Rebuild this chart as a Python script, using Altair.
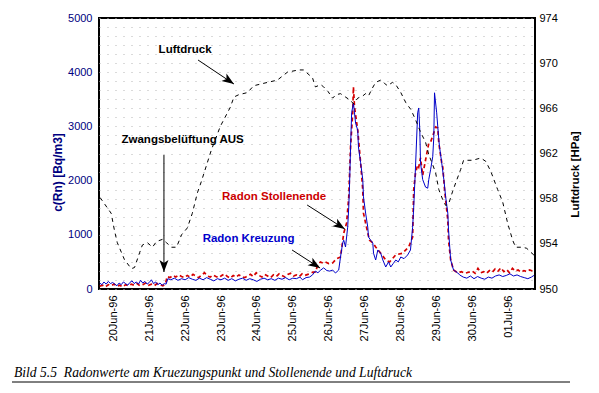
import math
import altair as alt
import pandas as pd

# ---------------- data ----------------
# x: day of June 1996 (31 = 01 Jul)
x_ticks = [20, 21, 22, 23, 24, 25, 26, 27, 28, 29, 30, 31]
x_labels = ["20Jun-96", "21Jun-96", "22Jun-96", "23Jun-96", "24Jun-96", "25Jun-96",
            "26Jun-96", "27Jun-96", "28Jun-96", "29Jun-96", "30Jun-96", "01Jul-96"]

# Luftdruck [hPa]
p_day = [19.63, 19.94, 20.03, 20.11, 20.31, 20.50, 20.59, 20.73, 20.81, 20.95, 21.09, 21.20,
         21.37, 21.48, 21.62, 21.76, 21.90, 22.06, 22.20, 22.34, 22.45, 22.73, 22.98, 23.26,
         23.36, 23.49, 23.74, 23.91, 24.30, 24.57, 24.85, 25.16, 25.30, 25.55, 25.63, 25.78,
         25.86, 25.98, 26.11, 26.20, 26.33, 26.47, 26.61, 26.69, 26.81, 26.95, 27.03, 27.11,
         27.22, 27.31, 27.45, 27.56, 27.64, 27.78, 27.87, 28.01, 28.15, 28.29, 28.42, 28.56,
         28.70, 28.79, 28.90, 28.98, 29.07, 29.18, 29.26, 29.34, 29.45, 29.54, 29.68, 29.76,
         30.01, 30.24, 30.38, 30.52, 30.71, 30.85, 30.99, 31.13, 31.21, 31.41, 31.52, 31.72]
p_hpa = [958.1, 956.7, 955.2, 954.1, 952.6, 951.8, 951.9, 953.2, 953.9, 954.1, 953.7, 954.2,
         954.4, 954.1, 953.7, 953.7, 954.8, 955.4, 956.7, 958.5, 959.5, 962.3, 964.4, 966.1,
         967.0, 967.2, 967.4, 968.0, 968.3, 968.5, 969.2, 969.4, 969.4, 968.7, 967.9, 968.1,
         967.9, 967.5, 966.9, 967.2, 967.3, 967.0, 966.7, 966.4, 966.9, 967.1, 967.3, 967.1,
         967.8, 968.3, 968.5, 968.2, 968.0, 968.3, 968.1, 967.4, 966.5, 965.9, 965.0, 963.9,
         963.0, 961.9, 961.0, 960.3, 958.8, 957.9, 957.4, 957.5, 958.6, 959.4, 960.6, 961.4,
         961.4, 961.6, 961.3, 960.4, 958.8, 957.7, 955.8, 954.3, 953.7, 953.7, 953.6, 953.0]

# Radon Kreuzung [Bq/m3]
k_day = [19.62, 19.68, 19.74, 19.80, 19.86, 19.92, 19.98, 20.04, 20.10, 20.16, 20.22, 20.28,
         20.34, 20.40, 20.46, 20.52, 20.58, 20.64, 20.70, 20.76, 20.82, 20.88, 20.94, 21.00,
         21.06, 21.12, 21.18, 21.24, 21.30, 21.36, 21.42, 21.47,
         21.52, 21.60, 21.70, 21.80, 21.90, 22.00, 22.10, 22.20, 22.30, 22.40, 22.50, 22.60,
         22.70, 22.80, 22.90, 23.00, 23.10, 23.20, 23.30, 23.40, 23.50, 23.60, 23.70, 23.80,
         23.90, 24.00, 24.10, 24.20, 24.30, 24.40, 24.50, 24.60, 24.70, 24.80, 24.90, 25.00,
         25.10, 25.20, 25.27, 25.37, 25.47, 25.55, 25.63, 25.70, 25.78, 25.86, 25.95, 26.03,
         26.11, 26.19, 26.28, 26.33, 26.39, 26.42, 26.47, 26.53, 26.56, 26.58, 26.61, 26.64,
         26.67, 26.69, 26.72, 26.75, 26.81, 26.83, 26.89, 26.95, 26.97, 27.03, 27.09, 27.11,
         27.17, 27.23, 27.25, 27.31, 27.37, 27.45, 27.51, 27.59, 27.67, 27.73, 27.80, 27.87,
         27.94, 28.01, 28.10, 28.20, 28.28, 28.34, 28.37, 28.42, 28.48, 28.51, 28.54, 28.56,
         28.62, 28.70, 28.76, 28.79, 28.84, 28.90, 28.93, 28.95, 29.01, 29.07, 29.09, 29.15,
         29.21, 29.26, 29.32, 29.34, 29.40, 29.48, 29.60, 29.65, 29.75, 29.85, 29.95, 30.05,
         30.15, 30.25, 30.35, 30.45, 30.55, 30.65, 30.75, 30.85, 30.95, 31.05, 31.15, 31.25,
         31.35, 31.45, 31.55, 31.65, 31.72]
k_val = [110, 80, 130, 90, 140, 100, 120, 90, 60, 110, 80, 130,
         100, 70, 120, 150, 100, 130, 90, 160, 110, 140, 90, 120,
         170, 100, 130, 80, 110, 70, 100, 90,
         190, 170, 200, 160, 190, 170, 210, 180, 160, 200, 170, 210,
         180, 150, 190, 170, 200, 160, 190, 150, 180, 200, 160, 190,
         170, 140, 180, 200, 170, 190, 160, 200, 180, 210, 170, 200,
         190, 220, 170, 210, 221, 260, 330, 300, 350, 390, 340, 330,
         350, 295, 350, 590, 850, 900, 775, 1140, 1510, 1880, 2600, 3250,
         3360, 3430, 3250, 3060, 2930, 2620, 2330, 2020, 1700, 1400, 1140, 960,
         900, 850, 660, 535, 720, 660, 535, 406, 500, 406, 470, 535,
         500, 590, 560, 627, 720, 1140, 1510, 2250, 3250, 3340, 2930, 2330,
         2020, 1880, 1860, 2020, 2200, 2440, 2800, 3620, 3250, 2750, 2620, 2330,
         2020, 1700, 1400, 1090, 535, 350, 295, 260, 220, 200, 240, 190,
         230, 200, 180, 220, 200, 240, 260, 230, 250, 280, 240, 260,
         230, 210, 190, 220, 250]

# Radon Stollenende [Bq/m3]
s_day = [19.62, 19.70, 19.78, 19.86, 19.94, 20.02, 20.10, 20.18, 20.26, 20.34, 20.42, 20.50,
         20.58, 20.66, 20.74, 20.82, 20.90, 20.98, 21.06, 21.14, 21.22, 21.30, 21.38, 21.45,
         21.50, 21.58, 21.66, 21.74, 21.82, 21.90, 21.98, 22.06, 22.14, 22.22, 22.30, 22.38,
         22.46, 22.54, 22.62, 22.70, 22.78, 22.86, 22.94, 23.02, 23.10, 23.18, 23.26, 23.34,
         23.42, 23.50, 23.58, 23.66, 23.74, 23.82, 23.90, 23.98, 24.06, 24.14, 24.22, 24.30,
         24.38, 24.46, 24.54, 24.62, 24.70, 24.78, 24.86, 24.94, 25.02, 25.10, 25.18, 25.26,
         25.34, 25.42, 25.50, 25.56, 25.63, 25.70, 25.77, 25.84, 25.91, 26.00, 26.11, 26.22,
         26.33, 26.42, 26.50, 26.56, 26.61, 26.67, 26.69, 26.72, 26.81, 26.89, 26.95, 26.97,
         27.09, 27.14, 27.23, 27.31, 27.45, 27.59, 27.70, 27.87, 28.06, 28.23, 28.34, 28.37,
         28.42, 28.48, 28.51, 28.56, 28.62, 28.70, 28.79, 28.84, 28.93, 28.98, 29.04, 29.07,
         29.15, 29.18, 29.23, 29.32, 29.34, 29.40, 29.48, 29.60, 29.70, 29.80, 29.90, 30.00,
         30.08, 30.16, 30.24, 30.32, 30.40, 30.48, 30.56, 30.64, 30.72, 30.80, 30.88, 30.96,
         31.04, 31.12, 31.20, 31.28, 31.36, 31.44, 31.52, 31.60, 31.68, 31.72]
s_val = [50, 70, 40, 80, 60, 90, 50, 70, 40, 80, 60, 90,
         70, 100, 60, 80, 110, 70, 90, 60, 100, 80, 60, 90,
         230, 210, 250, 220, 260, 230, 210, 250, 220, 270, 240, 210,
         260, 300, 240, 220, 260, 230, 210, 250, 280, 230, 200, 250,
         220, 260, 230, 210, 240, 270, 230, 300, 250, 220, 270, 240,
         210, 260, 230, 280, 250, 220, 270, 290, 240, 260, 230, 280,
         250, 270, 290, 310, 313, 450, 500, 480, 500, 470, 480, 560,
         590, 1030, 1220, 1700, 2620, 3250, 3730, 3360, 2930, 2330, 1830, 1400,
         1030, 900, 850, 775, 660, 535, 500, 630, 660, 775, 960, 1830,
         2140, 2290, 2250, 2420, 2100, 2380, 2690, 2710, 2880, 2990, 2970, 2690,
         2330, 2250, 1830, 1270, 900, 535, 350, 295, 320, 290, 310, 330,
         290, 380, 300, 320, 290, 340, 310, 370, 330, 390, 320, 360,
         300, 380, 330, 350, 310, 340, 320, 350, 330, 320]

# annotations (text, centre position in data units)
ann_text = ["Luftdruck", "Zwangsbelüftung AUS", "Radon Stollenende", "Radon Kreuzung"]
ann_day = [22.00, 21.93, 24.48, 23.77]
ann_val = [4410, 2749, 1697, 922]
ann_color = ["#000000", "#000000", "#cc0000", "#0000cc"]
# arrows: start -> tip
arr_day = [22.36, 21.41, 25.40, 24.98]
arr_val = [4225, 2472, 1550, 720]
arr_day2 = [23.36, 21.41, 26.45, 25.76]
arr_val2 = [3782, 314, 1107, 387]

caption = "Bild 5.5\u00a0 Radonwerte am Kruezungspunkt und Stollenende und Luftdruck"

# ---------------- chart ----------------
W, H = 436, 271
XD = [19.60, 31.75]
YD = [0, 5000]
PD = [950, 974]
FONT = "Liberation Sans"

label_expr = "[" + ",".join("'%s'" % s for s in x_labels) + "][datum.value - 20]"
x_axis = alt.Axis(values=x_ticks, labelExpr=label_expr, labelAngle=270, labelAlign="right",
                  labelBaseline="middle", labelPadding=6, labelFont=FONT, labelFontSize=11,
                  labelColor="black", ticks=False, domain=False, grid=False, title=None,
                  labelFlush=False, labelOverlap=False)
x_scale = alt.Scale(domain=XD, nice=False, zero=False)

grid_vals = [i * 5000 / 30 for i in range(31)]
y_axis = alt.Axis(values=grid_vals, labelExpr="datum.value % 1000 === 0 ? datum.label : ''",
                  format="d", grid=True, gridColor="#b4b4b4", gridDash=[1, 7], gridWidth=1,
                  ticks=False, domain=False, labelOverlap=False, labelFlush=False,
                  labelColor="#000080", labelFont=FONT, labelFontSize=11, labelPadding=7,
                  title="c(Rn) [Bq/m3]", titleColor="#000080", titleFont=FONT,
                  titleFontSize=12, titleFontWeight="bold", titleAngle=270,
                  titleX=-42, titleY=154, titleAlign="center", titleBaseline="middle")
y_scale = alt.Scale(domain=YD, nice=False, zero=False)

p_axis = alt.Axis(orient="right", values=[950, 954, 958, 962, 966, 970, 974], grid=False,
                  ticks=False, domain=False, labelColor="black", labelFont=FONT,
                  labelFontSize=11, labelPadding=4, title="Luftdruck [HPa]",
                  titleColor="black", titleFont=FONT, titleFontSize=11.5,
                  titleFontWeight="bold", titleAngle=270, titleX=40, titleY=156,
                  titleAlign="center", titleBaseline="middle")
p_scale = alt.Scale(domain=PD, nice=False, zero=False)

X = alt.X("d:Q", scale=x_scale, axis=x_axis)
Y = alt.Y("v:Q", scale=y_scale, axis=y_axis)

red = alt.Chart(pd.DataFrame({"d": s_day, "v": s_val})).mark_line(
    color="#d40000", strokeWidth=1.7, strokeDash=[4, 3]).encode(x=X, y=Y)
blue = alt.Chart(pd.DataFrame({"d": k_day, "v": k_val})).mark_line(
    color="#0000c8", strokeWidth=1).encode(x=X, y=Y)

ann_df = pd.DataFrame({"t": ann_text, "d": ann_day, "v": ann_val, "c": ann_color})
texts = alt.Chart(ann_df).mark_text(font=FONT, fontSize=11.5, fontWeight="bold",
                                    align="center", baseline="middle").encode(
    x=X, y=Y, text="t:N", color=alt.Color("c:N", scale=None))

# arrow head angles from the on-screen direction
sx = W / (XD[1] - XD[0])
sy = H / (YD[1] - YD[0])
angles = []
for a, b, c, e in zip(arr_day, arr_val, arr_day2, arr_val2):
    dx = (c - a) * sx
    dy = -(e - b) * sy
    angles.append(math.degrees(math.atan2(dx, -dy)) % 360)

arr_df = pd.DataFrame({"d": arr_day, "v": arr_val, "d2": arr_day2, "v2": arr_val2,
                       "ang": angles})
rules = alt.Chart(arr_df).mark_rule(color="black", strokeWidth=1).encode(
    x=X, y=Y, x2="d2:Q", y2="v2:Q")
heads = alt.Chart(arr_df).mark_point(
    filled=True, shape="M0,0L-0.9,2.4L0,1.8L0.9,2.4Z", size=100, color="black",
    opacity=1, strokeWidth=0).encode(
    x=alt.X("d2:Q", scale=x_scale, axis=x_axis),
    y=alt.Y("v2:Q", scale=y_scale, axis=y_axis),
    angle=alt.Angle("ang:Q", scale=None))

cap = alt.Chart(pd.DataFrame({"t": [caption]})).mark_text(
    font="Liberation Serif", fontStyle="italic", fontSize=13.6, align="left",
    baseline="alphabetic", color="black").encode(
    x=alt.value(-85), y=alt.value(358.5), text="t:N")
underline = alt.Chart(pd.DataFrame({"a": [0]})).mark_rule(color="black", strokeWidth=1).encode(
    x=alt.value(-87), x2=alt.value(471), y=alt.value(364))

radon = alt.layer(red, blue, rules, heads, texts, cap, underline)

pressure = alt.Chart(pd.DataFrame({"d": p_day, "p": p_hpa})).mark_line(
    color="black", strokeWidth=1, strokeDash=[4, 4]).encode(
    x=X, y=alt.Y("p:Q", scale=p_scale, axis=p_axis))

chart = alt.layer(radon, pressure).resolve_scale(y="independent").properties(
    width=W, height=H,
    padding={"left": 91, "top": 10, "right": 56, "bottom": 94},
    autosize=alt.AutoSizeParams(type="none"),
    background="white",
).configure_view(stroke="black", strokeWidth=2)

chart.save("out.html", embed_options={"renderer": "svg", "actions": False})
